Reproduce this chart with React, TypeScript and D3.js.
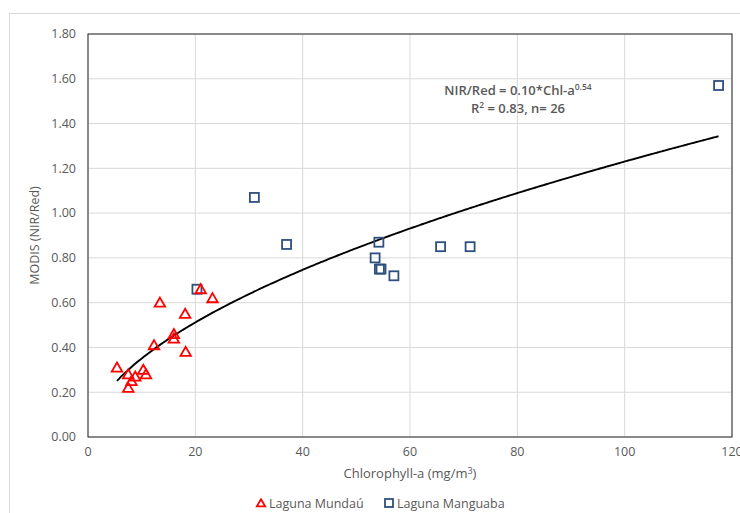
import * as d3 from 'd3';

// Laguna Mundaú (triangles)
const mundauChl = [5.4, 13.4, 7.5, 7.5, 8.1, 8.8, 10.3, 10.8, 12.3, 16.0, 16.0, 18.1, 18.2, 21.0, 23.2];
const mundauRatio = [0.31, 0.6, 0.28, 0.22, 0.25, 0.27, 0.3, 0.28, 0.41, 0.46, 0.44, 0.55, 0.38, 0.66, 0.62];

// Laguna Manguaba (squares)
const manguabaChl = [20.3, 31.0, 37.0, 54.2, 53.5, 54.3, 54.6, 57.0, 65.7, 71.2, 117.5];
const manguabaRatio = [0.66, 1.07, 0.86, 0.87, 0.8, 0.75, 0.75, 0.72, 0.85, 0.85, 1.57];

// power trend: NIR/Red = a * Chl^b
const trendA = 0.1;
const trendB = 0.545;

const xTicks = [0, 20, 40, 60, 80, 100, 120];
const yTicks = [0, 0.2, 0.4, 0.6, 0.8, 1.0, 1.2, 1.4, 1.6, 1.8];

const width = 740;
const height = 513;
const font = "'Open Sans', sans-serif";
const textColor = '#595959';

export default function App() {
  const left = 88;
  const right = 732;
  const top = 34;
  const bottom = 437;

  const x = d3.scaleLinear().domain([0, 120]).range([left, right]);
  const y = d3.scaleLinear().domain([0, 1.8]).range([bottom, top]);

  const allChl = mundauChl.concat(manguabaChl);
  const xMin = d3.min(allChl) as number;
  const xMax = d3.max(allChl) as number;
  const trendX = d3.range(xMin, xMax, 0.5).concat([xMax]);
  const line = d3
    .line<number>()
    .x((d) => x(d))
    .y((d) => y(trendA * Math.pow(d, trendB)))
    .curve(d3.curveMonotoneX);

  const tri = d3.symbol().type(d3.symbolTriangle).size(48);

  return (
    <svg
      width={width}
      height={height}
      style={{ position: 'absolute', left: 0, top: 0, background: '#fff' }}
      fontFamily={font}
    >
      <rect x={9.5} y={13.5} width={740} height={510} fill="#fff" stroke="#d9d9d9" />

      {/* gridlines */}
      {yTicks.map((t) => (
        <line key={'gy' + t} x1={left} x2={right} y1={y(t)} y2={y(t)} stroke="#d9d9d9" strokeWidth={1} />
      ))}
      {xTicks.map((t) => (
        <line key={'gx' + t} x1={x(t)} x2={x(t)} y1={top} y2={bottom} stroke="#d9d9d9" strokeWidth={1} />
      ))}
      <rect x={left} y={top} width={right - left} height={bottom - top} fill="none" stroke="#262626" strokeWidth={1} />

      {/* tick labels */}
      {yTicks.map((t) => (
        <text key={'ty' + t} x={76} y={y(t)} dy="0.35em" textAnchor="end" fontSize={12.5} fill={textColor}>
          {t.toFixed(2)}
        </text>
      ))}
      {xTicks.map((t) => (
        <text key={'tx' + t} x={x(t)} y={456} textAnchor="middle" fontSize={12.5} fill={textColor}>
          {t}
        </text>
      ))}

      <text
        transform={`translate(39,${(top + bottom) / 2}) rotate(-90)`}
        textAnchor="middle"
        fontSize={12.5}
        fill={textColor}
      >
        MODIS (NIR/Red)
      </text>
      <text x={410} y={478} textAnchor="middle" fontSize={13} fill={textColor}>
        Chlorophyll-a (mg/m<tspan dy={-4} fontSize={9}>3</tspan>
        <tspan dy={4}>)</tspan>
      </text>

      {/* trend line */}
      <path d={line(trendX) || ''} fill="none" stroke="#000" strokeWidth={1.9} />

      {/* Manguaba squares */}
      {manguabaChl.map((c, i) => (
        <rect
          key={'s' + i}
          x={x(c) - 4.5}
          y={y(manguabaRatio[i]) - 4.5}
          width={9}
          height={9}
          fill="none"
          stroke="#2f4f7f"
          strokeWidth={1.8}
        />
      ))}
      {/* Mundaú triangles */}
      {mundauChl.map((c, i) => (
        <path
          key={'t' + i}
          d={tri() || ''}
          transform={`translate(${x(c)},${y(mundauRatio[i]) + 1})`}
          fill="none"
          stroke="#ff0000"
          strokeWidth={1.8}
        />
      ))}

      {/* equation */}
      <text x={518} y={95} textAnchor="middle" fontSize={13} fontWeight={600} fill={textColor}>
        NIR/Red = 0.10*Chl-a<tspan dy={-5} fontSize={8.5}>0.54</tspan>
      </text>
      <text x={518} y={113} textAnchor="middle" fontSize={13} fontWeight={600} fill={textColor}>
        R<tspan dy={-5} fontSize={8.5}>2</tspan>
        <tspan dy={5}> = 0.83, n= 26</tspan>
      </text>

      {/* legend */}
      <path
        d={d3.symbol().type(d3.symbolTriangle).size(30)() || ''}
        transform="translate(261,504)"
        fill="none"
        stroke="#ff0000"
        strokeWidth={1.8}
      />
      <text x={269} y={508} fontSize={12.5} fill={textColor}>
        Laguna Mundaú
      </text>
      <rect x={385} y={499} width={8} height={8} fill="none" stroke="#2f4f7f" strokeWidth={1.8} />
      <text x={397} y={508} fontSize={12.5} fill={textColor}>
        Laguna Manguaba
      </text>
    </svg>
  );
}
